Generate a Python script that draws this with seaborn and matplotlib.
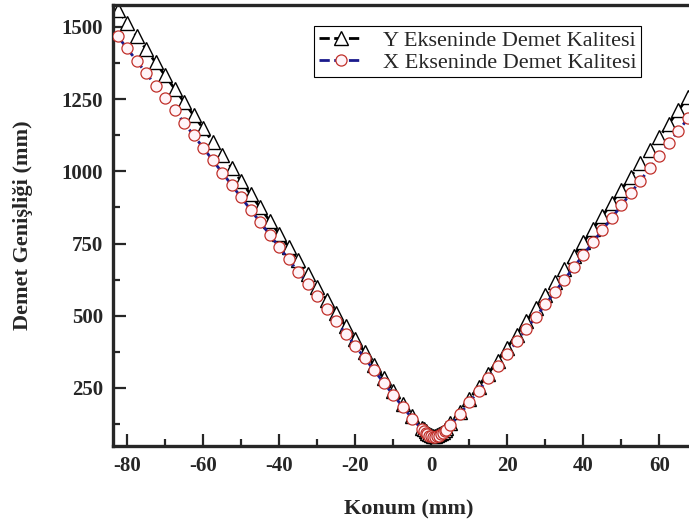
import pandas as pd
import matplotlib.pyplot as plt
import seaborn as sns
from matplotlib.ticker import MultipleLocator

# konum (mm)
konum = [-82.5, -80.0, -77.5, -75.0, -72.5, -70.0, -67.5, -65.0, -62.5, -60.0,
         -57.5, -55.0, -52.5, -50.0, -47.5, -45.0, -42.5, -40.0, -37.5, -35.0,
         -32.5, -30.0, -27.5, -25.0, -22.5, -20.0, -17.5, -15.0, -12.5, -10.0,
         -7.5, -5.0,
         -2.5, -2.0, -1.5, -1.0, -0.5, 0.0, 0.5, 1.0, 1.5, 2.0, 2.5, 3.0, 3.5, 4.0,
         5.0, 7.5, 10.0, 12.5, 15.0, 17.5, 20.0, 22.5, 25.0, 27.5, 30.0, 32.5,
         35.0, 37.5, 40.0, 42.5, 45.0, 47.5, 50.0, 52.5, 55.0, 57.5, 60.0, 62.5,
         65.0, 67.5]

# Y ekseninde demet genisligi (mm)
genislik_y = [1560, 1514, 1469, 1423, 1377, 1332, 1286, 1240, 1194, 1149,
              1103, 1057, 1012, 966, 920, 875, 829, 783, 738, 692,
              646, 601, 555, 510, 464, 419, 374, 328, 284, 239,
              195, 152,
              113, 107, 100, 95, 90, 87, 85, 85, 87, 90, 94, 99, 105, 112,
              127, 167, 211, 255, 300, 345, 390, 435, 481, 526, 572, 617,
              663, 708, 754, 800, 845, 891, 937, 982, 1028, 1074, 1120, 1165,
              1211, 1257]

# X ekseninde demet genisligi (mm)
genislik_x = [1468, 1426, 1383, 1340, 1297, 1254, 1211, 1168, 1125, 1082,
              1039, 996, 953, 910, 867, 824, 781, 738, 695, 652,
              610, 567, 524, 481, 438, 396, 353, 311, 268, 226,
              185, 144,
              107, 101, 95, 90, 85, 82, 80, 80, 82, 85, 89, 94, 100, 106,
              120, 159, 200, 241, 283, 326, 368, 411, 454, 496, 539, 582,
              625, 668, 711, 754, 797, 839, 882, 925, 968, 1011, 1054, 1097,
              1140, 1183]

df = pd.DataFrame({"Konum": konum, "Y": genislik_y, "X": genislik_x})

sns.set_style("ticks")
plt.rcParams["font.family"] = ["Liberation Serif", "DejaVu Serif"]
plt.rcParams["axes.unicode_minus"] = False

fig = plt.figure(figsize=(6.89, 5.26), dpi=100)
ax = fig.add_axes([113 / 689, 80 / 526, 592 / 689, 441 / 526])

sns.lineplot(data=df, x="Konum", y="Y", ax=ax, color="black", linestyle="--",
             linewidth=2.0, marker="^", markersize=10, markerfacecolor="white",
             markeredgecolor="black", markeredgewidth=1.0,
             label="Y Ekseninde Demet Kalitesi", zorder=2)
sns.lineplot(data=df, x="Konum", y="X", ax=ax, color="#1a1a8c", linestyle="--",
             linewidth=2.0, marker="o", markersize=8, markerfacecolor="#fff4f8",
             markeredgecolor="#c0302a", markeredgewidth=0.9,
             label="X Ekseninde Demet Kalitesi", zorder=3)

ax.set_xlim(-83.7, 72)
ax.set_ylim(49, 1576)
ax.xaxis.set_major_locator(MultipleLocator(20))
ax.xaxis.set_minor_locator(MultipleLocator(10))
ax.yaxis.set_minor_locator(MultipleLocator(125))
ax.set_yticks([250, 500, 750, 1000, 1250, 1500])

for s in ax.spines.values():
    s.set_linewidth(2.4)
ax.tick_params(which="major", direction="in", length=9, width=1.6,
               labelsize=15, pad=7)
ax.tick_params(which="minor", direction="in", length=5, width=1.6)
for lab in ax.get_xticklabels() + ax.get_yticklabels():
    lab.set_fontweight("bold")

ax.set_xlabel("Konum (mm)", fontsize=16, fontweight="bold", labelpad=17)
ax.set_ylabel("Demet Genişliği (mm)", fontsize=16, fontweight="bold", labelpad=21)

leg = ax.legend(loc="upper right", bbox_to_anchor=(0.892, 0.952), fontsize=16,
                frameon=True, fancybox=False, edgecolor="black", framealpha=1,
                borderpad=0.2, handlelength=2.0, handletextpad=0.9,
                labelspacing=0.05, borderaxespad=0)
leg.get_frame().set_linewidth(0.8)

fig.savefig("out.png", dpi=100)
